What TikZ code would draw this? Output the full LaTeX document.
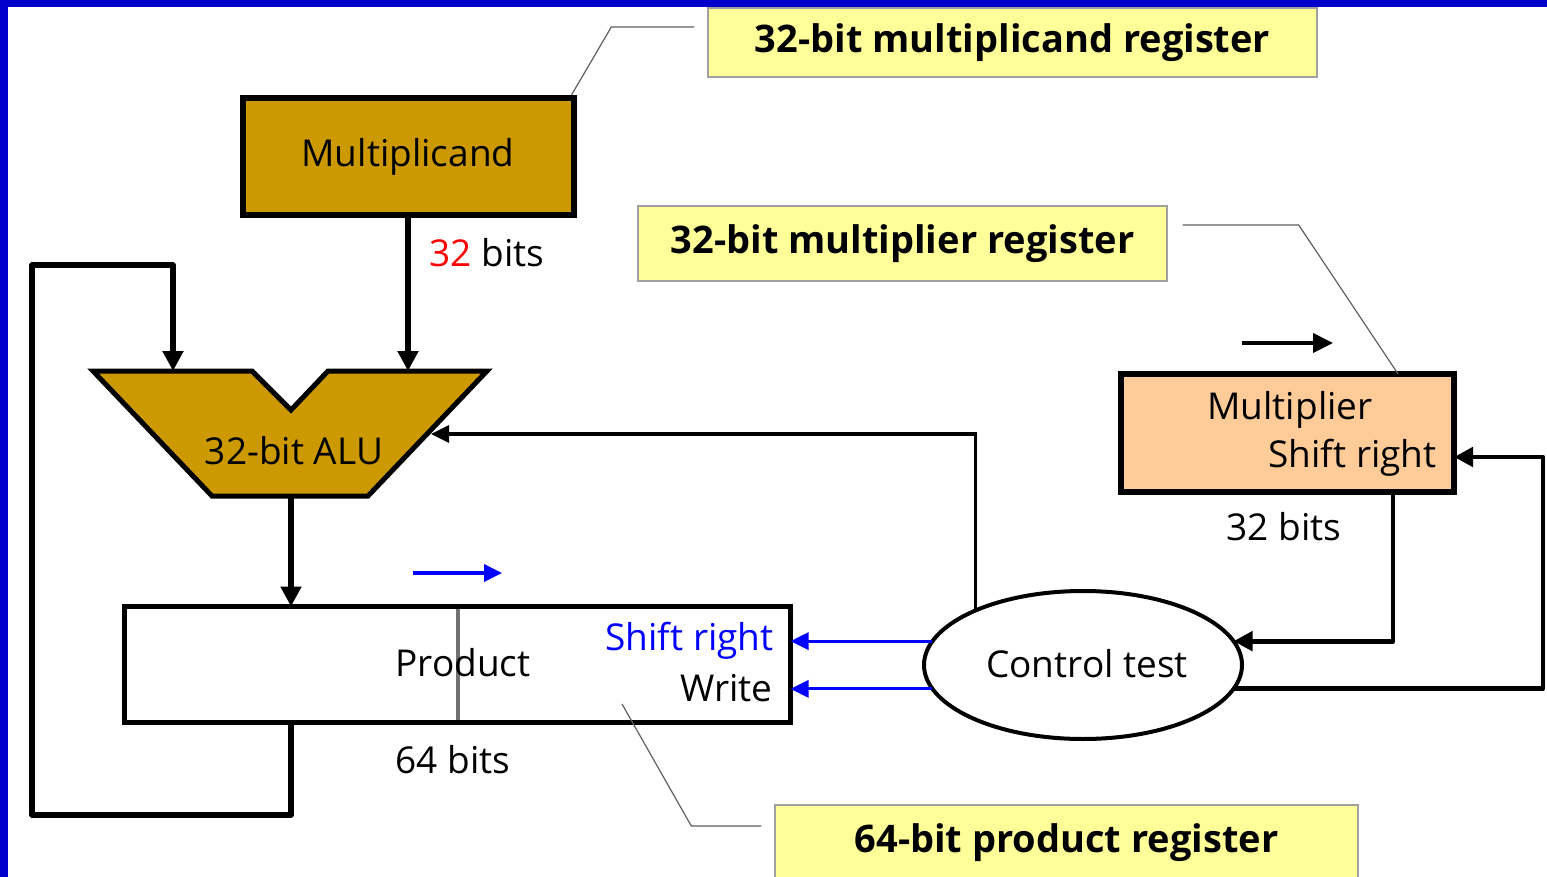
\documentclass[tikz,border=0pt]{standalone}
\usepackage{fontspec}
\setmainfont{Open Sans}
\usetikzlibrary{shapes.geometric,arrows.meta,calc}

\definecolor{frameblue}{HTML}{0000CC}
\definecolor{gold}{HTML}{CC9900}
\definecolor{peach}{HTML}{FFCC99}
\definecolor{notey}{HTML}{FFFF99}
\definecolor{noteedge}{HTML}{A0A0A0}
\definecolor{leadgray}{HTML}{606060}
\definecolor{divgray}{HTML}{707070}

\tikzset{
  reg/.style={draw=black, line width=3pt, rectangle, inner sep=0pt, outer sep=0pt},
  note/.style={draw=noteedge, line width=0.7pt, fill=notey, rectangle, inner sep=0pt,
               font=\fontsize{19}{22}\selectfont\bfseries},
  lbl/.style={font=\fontsize{18.5}{22}\selectfont, inner sep=0pt},
  bus/.style={line width=2.75pt, line join=round, -{Triangle[length=10pt,width=10pt]}},
  ctl/.style={line width=2.4pt, line join=round, -{Triangle[length=9.5pt,width=9.5pt]}},
  thinarr/.style={line width=1.6pt, -{Triangle[length=9pt,width=8.5pt]}},
  markarr/.style={line width=2pt, -{Triangle[length=10pt,width=9.5pt]}},
  bluearr/.style={draw=blue, fill=blue, line width=1.6pt, -{Triangle[length=9pt,width=8.5pt]}},
  leader/.style={draw=leadgray, line width=0.6pt}
}

\begin{document}
\begin{tikzpicture}[x=0.5pt, y=-0.5pt]
\useasboundingbox (0,0) rectangle (1547,877);
\fill[white] (0,0) rectangle (1547,877);
% slide frame
\fill[frameblue] (0,0) rectangle (8,877);
\fill[frameblue] (0,0) rectangle (1547,7);

% registers
\node[reg, fill=gold, minimum width=165.5pt, minimum height=58.5pt] (mcand) at (408,156.5) {};
\node[lbl] at (408,157) {Multiplicand};

\node[reg, fill=white, line width=2.5pt, minimum width=333pt, minimum height=58pt] (prod) at (457.5,664.5) {};
\draw[divgray, line width=2pt] ([yshift=-1.25pt]prod.north) -- ([yshift=1.25pt]prod.south);
\node[lbl] (prodtxt) at (463,663) {Product};
\node[lbl, anchor=east, text=blue] (shr) at (774,641) {Shift right};
\node[lbl, anchor=east] (wr) at (773,688) {Write};

\node[reg, fill=peach, minimum width=166.5pt, minimum height=59pt] (mult) at (1287.5,433) {};
\node[lbl] at (1290,410) {Multiplier};
\node[lbl, anchor=east] at (1437,458) {Shift right};

% ALU outline
\coordinate (aluL) at (173,371);
\coordinate (aluR) at (408,371);
\coordinate (aluOut) at (291,496);
\coordinate (aluIn) at (431,434);
\filldraw[fill=gold, draw=black, line width=2.5pt, line join=miter]
  (93,371) -- (252,371) -- (291,410) -- (328,371) -- (487,371) -- (368,496) -- (212,496) -- cycle;
\node[lbl] (alu) at (294,451) {32-bit ALU};

% control
\node[draw, ellipse, line width=2pt, fill=white, minimum width=159pt, minimum height=74pt, inner sep=0pt, outer sep=0pt] (ctrl) at (1083,665) {};
\node[lbl] at (1087,664) {Control test};

% bit widths
\node[lbl] at (487,253) {\textcolor{red}{32} bits};
\node[lbl] at (453,760) {64 bits};
\node[lbl] at (1284,527) {32 bits};

% data paths
\draw[bus] (mcand.south) -- (aluR);
\draw[bus] (aluOut) -- (aluOut |- prod.north);
\coordinate (loopB) at (32,815);
\coordinate (loopT) at (32,265);
\draw[bus] (aluOut |- prod.south) -- (aluOut |- loopB) -- (loopB) -- (loopT) -- (aluL |- loopT) -- (aluL);

% control paths
\draw[thinarr] (ctrl.153) |- (aluIn);
\draw[bluearr] (ctrl.171) -- (ctrl.171 -| prod.east);
\draw[bluearr] (ctrl.189) -- (ctrl.189 -| prod.east);
\coordinate (multOut) at ($(mult.south west)!0.817!(mult.south east)$);
\draw[ctl] (multOut) |- (ctrl.9.5);
\coordinate (rloop) at (1543,0);
\coordinate (multIn) at ([yshift=-12pt]mult.east);
\draw[ctl] (ctrl.-9) -- (ctrl.-9 -| rloop) -- (rloop |- multIn) -- (multIn);

% shift direction marks
\coordinate (pa) at (413,573); \coordinate (pb) at (502,573);
\draw[bluearr, line width=1.8pt] (pa) -- (pb);
\coordinate (ma) at (1242,343); \coordinate (mb) at (1333,343);
\draw[markarr] (ma) -- (mb);

% callouts
\node[note, minimum width=304.5pt, minimum height=34.5pt] (c1) at (1012.5,42.5) {32-bit multiplicand register};
\node[note, minimum width=264.5pt, minimum height=37.5pt] (c2) at (902.5,243.5) {32-bit multiplier register};
\node[note, minimum width=291.5pt, minimum height=37.5pt] (c3) at (1066.5,842.5) {64-bit product register};

\draw[leader] ([xshift=-6.5pt,yshift=7.75pt]c1.west) -- ++(-83,0) -- ([xshift=-1pt,yshift=1.5pt]mcand.north east);
\draw[leader] ([xshift=7.5pt,yshift=9.25pt]c2.east) -- ++(116,0) -- ($(mult.north west)!0.832!(mult.north east)$);
\draw[leader] ($(prod.center)+(164.5,39.5)$) -- ([xshift=-41.5pt,yshift=8.25pt]c3.west) -- ([xshift=-6.5pt,yshift=8.25pt]c3.west);
\end{tikzpicture}
\end{document}
